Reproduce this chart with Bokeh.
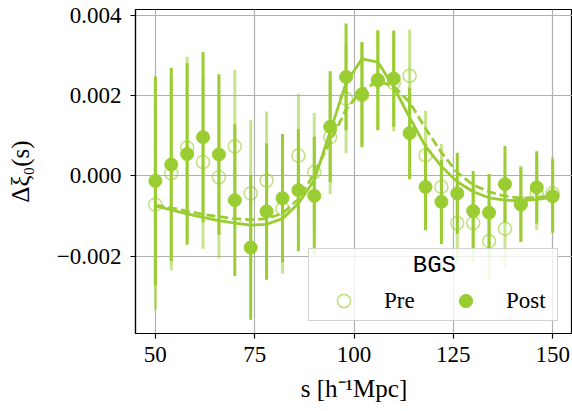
import numpy as np
from bokeh.plotting import figure
from bokeh.models import (ColumnDataSource, Legend, LegendItem, Range1d,
                          FixedTicker, CustomJSTickFormatter)
from bokeh.embed import file_html
from bokeh.resources import INLINE

# ---------------- data ----------------
s = [50, 54, 58, 62, 66, 70, 74, 78, 82, 86, 90, 94, 98, 102, 106, 110,
     114, 118, 122, 126, 130, 134, 138, 142, 146, 150]

pre = [-0.00072, 0.00006, 0.00070, 0.00034, -0.00004, 0.00073, -0.00044, -0.00012,
       -0.00082, 0.00050, 0.00009, 0.00096, 0.00192, 0.00200, 0.00238, 0.00231,
       0.00249, 0.00051, -0.00028, -0.00118, -0.00118, -0.00163, -0.00132, -0.00068,
       -0.00044, -0.00044]
pre_err = [0.00262, 0.00242, 0.00227, 0.00216, 0.00202, 0.00190, 0.00182, 0.00172,
           0.00162, 0.00154, 0.00147, 0.00142, 0.00136, 0.00130, 0.00125, 0.00120,
           0.00115, 0.00111, 0.00107, 0.00102, 0.00100, 0.00098, 0.00096, 0.00093,
           0.00091, 0.00091]

post = [-0.00013, 0.00028, 0.00054, 0.00096, 0.00053, -0.00061, -0.00179, -0.00089,
        -0.00056, -0.00036, -0.00050, 0.00122, 0.00246, 0.00203, 0.00238, 0.00242,
        0.00106, -0.00028, -0.00065, -0.00044, -0.00088, -0.00092, -0.00021, -0.00072,
        -0.00029, -0.00051]
post_err = [0.00260, 0.00241, 0.00226, 0.00212, 0.00200, 0.00189, 0.00180, 0.00170,
            0.00160, 0.00152, 0.00147, 0.00138, 0.00133, 0.00130, 0.00124, 0.00120,
            0.00114, 0.00108, 0.00105, 0.00101, 0.00100, 0.00096, 0.00095, 0.00093,
            0.00090, 0.00091]

model_pre = [-0.00073, -0.00080, -0.00088, -0.00096, -0.00102, -0.00107, -0.00110, -0.00107,
             -0.00094, -0.00058, 0.00005, 0.00085, 0.00165, 0.00213, 0.00235, 0.00223,
             0.00183, 0.00118, 0.00058, 0.00008, -0.00023, -0.00040, -0.00051, -0.00056,
             -0.00054, -0.00050]
model_post = [-0.00075, -0.00085, -0.00095, -0.00104, -0.00112, -0.00118, -0.00123, -0.00121,
              -0.00107, -0.00069, -0.00011, 0.00110, 0.00231, 0.00291, 0.00283, 0.00221,
              0.00145, 0.00073, 0.00023, -0.00015, -0.00040, -0.00055, -0.00061, -0.00062,
              -0.00059, -0.00054]

x_ticks = [50, 75, 100, 125, 150]
y_ticks = [-0.002, 0.0, 0.002, 0.004]
legend_title = "BGS"
series_labels = ["Pre", "Post"]
x_label = "s [h\u207b\u00b9Mpc]"
y_label = "\u0394\u03be\u2080(s)"

# ---------------- styling ----------------
GREEN = "#9acd32"
FONT = "Liberation Serif"
MONO = "Liberation Mono"

src_pre = ColumnDataSource(dict(
    s=s, y=pre,
    lo=[v - e for v, e in zip(pre, pre_err)],
    hi=[v + e for v, e in zip(pre, pre_err)]))
src_post = ColumnDataSource(dict(
    s=s, y=post,
    lo=[v - e for v, e in zip(post, post_err)],
    hi=[v + e for v, e in zip(post, post_err)]))
src_model = ColumnDataSource(dict(s=s, pre=model_pre, post=model_post))

p = figure(width=572, height=411, output_backend="svg", toolbar_location=None,
           x_range=Range1d(45, 155), y_range=Range1d(-0.00393, 0.00414),
           min_border_left=135, min_border_right=0, min_border_top=9,
           min_border_bottom=78)

p.background_fill_color = "white"
p.border_fill_color = "white"
p.outline_line_color = "black"
p.outline_line_width = 1.2

# grid
for g in (p.xgrid, p.ygrid):
    g.grid_line_color = "#b0b0b0"
    g.grid_line_width = 1.2
p.xgrid.ticker = FixedTicker(ticks=x_ticks)
p.ygrid.ticker = FixedTicker(ticks=y_ticks)

# axes
p.xaxis.ticker = FixedTicker(ticks=x_ticks)
p.yaxis.ticker = FixedTicker(ticks=y_ticks)
p.yaxis.formatter = CustomJSTickFormatter(
    code="return (tick < -1e-12 ? '\u2212' : '') + Math.abs(tick).toFixed(3);")
for ax in (p.xaxis, p.yaxis):
    ax.axis_line_color = "black"
    ax.axis_line_width = 1.2
    ax.major_tick_line_color = "black"
    ax.major_tick_line_width = 1.2
    ax.major_tick_out = 5
    ax.major_tick_in = 0
    ax.minor_tick_out = 0
    ax.minor_tick_in = 0
    ax.major_label_text_font = FONT
    ax.major_label_text_font_size = "23px"
    ax.major_label_text_color = "black"
    ax.axis_label_text_font = FONT
    ax.axis_label_text_font_size = "25px"
    ax.axis_label_text_font_style = "normal"
    ax.axis_label_text_color = "black"
p.xaxis.major_label_standoff = 8
p.yaxis.major_label_standoff = 9
p.xaxis.axis_label = x_label
p.yaxis.axis_label = y_label
p.xaxis.axis_label_standoff = 10
p.yaxis.axis_label_standoff = 20

# error bars
pre_bars = p.segment(x0="s", y0="lo", x1="s", y1="hi", source=src_pre,
                     line_color=GREEN, line_alpha=0.55, line_width=3)
post_bars = p.segment(x0="s", y0="lo", x1="s", y1="hi", source=src_post,
                      line_color=GREEN, line_alpha=1.0, line_width=3)

# model curves
p.line(x="s", y="pre", source=src_model, line_color=GREEN, line_width=2.8,
       line_dash="9 4")
p.line(x="s", y="post", source=src_model, line_color=GREEN, line_width=2.8)

# markers
pre_pts = p.scatter(x="s", y="y", source=src_pre, marker="circle", size=13,
                    fill_color=None, line_color=GREEN, line_alpha=0.6, line_width=1.6)
post_pts = p.scatter(x="s", y="y", source=src_post, marker="circle", size=13,
                     fill_color=GREEN, line_color=GREEN)

# legend (title centred with non-breaking spaces)
legend = Legend(
    items=[LegendItem(label=series_labels[0], renderers=[pre_pts]),
           LegendItem(label=series_labels[1], renderers=[post_pts])],
    orientation="horizontal",
    location=(173, 12),
    title="\u00a0" * 7 + legend_title,
    title_text_font=MONO,
    title_text_font_size="24px",
    title_text_font_style="normal",
    title_text_color="black",
    title_standoff=5,
    label_text_font=FONT,
    label_text_font_size="23px",
    label_text_color="black",
    glyph_width=63, glyph_height=33,
    label_standoff=9,
    label_width=48,
    spacing=2,
    padding=3,
    margin=0,
    background_fill_color="white",
    background_fill_alpha=0.8,
    border_line_color="#cccccc",
    border_line_width=1.2,
    border_line_alpha=0.9,
)
p.add_layout(legend, "center")

open("out.html", "w").write(file_html(p, INLINE))
